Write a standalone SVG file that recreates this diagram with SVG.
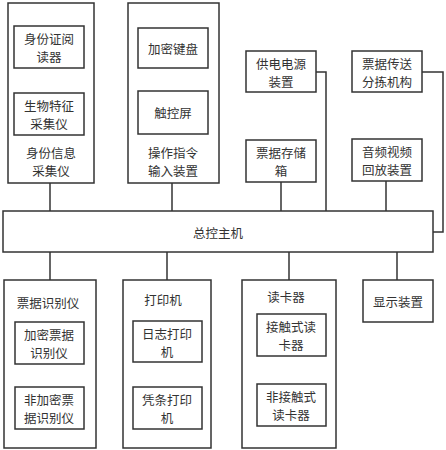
<svg xmlns="http://www.w3.org/2000/svg" width="446" height="450" viewBox="0 0 446 450">
<style>
rect{fill:#fff;stroke:#333;stroke-width:1.5}
text{font-family:"Noto Sans CJK SC","Noto Sans",sans-serif;font-size:12.5px;fill:#333;text-anchor:middle;dominant-baseline:central}
.c path,.c line{stroke:#333;stroke-width:1.5;fill:none}
</style>
<rect x="0" y="0" width="446" height="450" style="stroke:none"/>
<g class="c" id="connectors">
<line x1="50" y1="183" x2="50" y2="211"/>
<line x1="172" y1="183" x2="172" y2="211"/>
<path d="M316 72H326V211"/>
<path d="M422 72H443V232H433"/>
<line x1="281" y1="182" x2="281" y2="211"/>
<line x1="386" y1="181" x2="386" y2="211"/>
<line x1="50" y1="252" x2="50" y2="280"/>
<line x1="167" y1="252" x2="167" y2="280"/>
<line x1="289" y1="252" x2="289" y2="280"/>
<line x1="397" y1="252" x2="397" y2="280"/>
</g>
<g id="identity">
<rect x="8" y="3" width="86" height="180"/>
<text x="51" y="152">身份信息</text><text x="51" y="170">采集仪</text>
</g>
<g id="id-reader"><rect x="14" y="26" width="70" height="42"/><text x="49" y="38">身份证阅</text><text x="49" y="56">读器</text></g>
<g id="bio"><rect x="14" y="93" width="70" height="42"/><text x="49" y="105">生物特征</text><text x="49" y="123">采集仪</text></g>
<g id="operation">
<rect x="128" y="3" width="91" height="180"/>
<text x="173" y="152">操作指令</text><text x="173" y="170">输入装置</text>
</g>
<g id="keypad"><rect x="138" y="28" width="70" height="40"/><text x="173" y="48">加密键盘</text></g>
<g id="touch"><rect x="138" y="91" width="70" height="43"/><text x="173" y="112">触控屏</text></g>
<g id="power"><rect x="246" y="51" width="70" height="41"/><text x="281" y="63">供电电源</text><text x="281" y="81">装置</text></g>
<g id="sorter"><rect x="352" y="51" width="70" height="41"/><text x="387" y="63">票据传送</text><text x="387" y="81">分拣机构</text></g>
<g id="storage"><rect x="246" y="140" width="70" height="42"/><text x="281" y="152">票据存储</text><text x="281" y="170">箱</text></g>
<g id="av"><rect x="352" y="139" width="70" height="42"/><text x="387" y="151">音频视频</text><text x="387" y="169">回放装置</text></g>
<g id="host"><rect x="3" y="211" width="430" height="41"/><text x="218" y="232">总控主机</text></g>
<g id="ticket-recog">
<rect x="4" y="280" width="92" height="168"/>
<text x="48" y="302">票据识别仪</text>
</g>
<g id="enc-recog"><rect x="15" y="322" width="69" height="42"/><text x="49" y="334">加密票据</text><text x="49" y="352">识别仪</text></g>
<g id="nonenc-recog"><rect x="15" y="387" width="69" height="42"/><text x="49" y="399">非加密票</text><text x="49" y="417">据识别仪</text></g>
<g id="printer">
<rect x="123" y="280" width="88" height="168"/>
<text x="163" y="299">打印机</text>
</g>
<g id="log-printer"><rect x="133" y="321" width="69" height="41"/><text x="167" y="333">日志打印</text><text x="167" y="351">机</text></g>
<g id="receipt-printer"><rect x="133" y="387" width="69" height="42"/><text x="167" y="399">凭条打印</text><text x="167" y="417">机</text></g>
<g id="card-reader">
<rect x="242" y="280" width="94" height="168"/>
<text x="286" y="296">读卡器</text>
</g>
<g id="contact"><rect x="257" y="314" width="69" height="42"/><text x="291" y="326">接触式读</text><text x="291" y="344">卡器</text></g>
<g id="contactless"><rect x="257" y="384" width="69" height="42"/><text x="291" y="396">非接触式</text><text x="291" y="414">读卡器</text></g>
<g id="display"><rect x="363" y="280" width="70" height="42"/><text x="398" y="301">显示装置</text></g>
</svg>
